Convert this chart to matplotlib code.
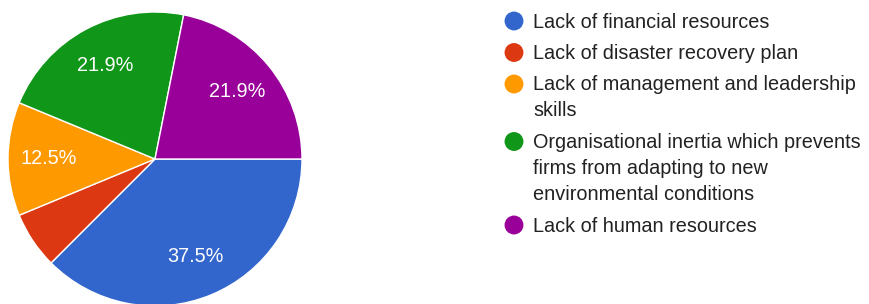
import matplotlib.pyplot as plt

plt.rcParams['font.family'] = ['Liberation Sans', 'DejaVu Sans']

labels = ["Lack of financial resources",
          "Lack of disaster recovery plan",
          "Lack of management and leadership\nskills",
          "Organisational inertia which prevents\nfirms from adapting to new\nenvironmental conditions",
          "Lack of human resources"]
counts = [12, 2, 4, 7, 7]
colors = ["#3366cc", "#dc3912", "#ff9900", "#109618", "#990099"]

W, H = 869, 304
fig = plt.figure(figsize=(W / 100, H / 100), dpi=100)
ax = fig.add_axes([0, 0, 1, 1])


def pct(p):
    return "%.1f%%" % p if p > 7 else ""


wedges, texts, autotexts = ax.pie(
    counts, colors=colors, startangle=0, counterclock=False,
    center=(155, H - 159), radius=147, frame=True,
    autopct=pct, pctdistance=0.72,
    wedgeprops=dict(edgecolor="white", linewidth=1),
    textprops=dict(color="white", fontsize=14.3))
ax.set_xlim(0, W)
ax.set_ylim(0, H)
ax.set_aspect("equal")
ax.axis("off")

# legend drawn by hand so the dot sits on the first line of wrapped text
y = H - 21
line_h = 26
for lab, c in zip(labels, colors):
    ax.scatter([514], [y], s=185, color=c, edgecolors="none", clip_on=False)
    lines = lab.split("\n")
    for i, ln in enumerate(lines):
        ax.text(533, y - 6.5 - i * line_h, ln, fontsize=14.3, color="#222222",
                va="baseline", ha="left")
    y -= line_h * (len(lines) - 1) + 31.5

fig.savefig("out.png", dpi=100)
